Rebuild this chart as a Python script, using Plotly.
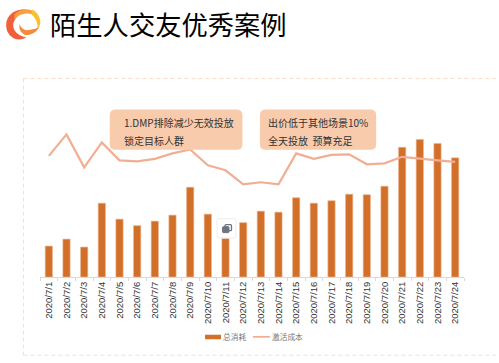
import plotly.graph_objects as go

W, H = 499, 363
dates = ["2020/7/%d" % d for d in range(1, 25)]
spend = [31, 38, 30, 74, 58, 51.5, 56, 62, 90, 63, 39, 54.5, 66, 65, 79.5, 74, 76.5, 83, 82.5, 91, 130, 138, 134, 119.5]
cost = [121.5, 143, 110, 135, 117, 116, 118.5, 124, 128, 112, 107, 93, 95, 93, 124, 118.5, 122.5, 123, 113, 114, 120.5, 118.5, 117, 115.5]
title_text = "陌生人交友优秀案例"
note_a = ["1.DMP排除减少无效投放", "锁定目标人群"]
note_b = ["出价低于其他场景10%", "全天投放  预算充足"]
legend_names = ["总消耗", "激活成本"]

L, R, T, B = 39.6, 464.5, 100.0, 277.5
CN = "Noto Sans CJK SC"
BAR = "#D2702A"
LINE = "#F2AE92"


def fx(x):
    return (x - L) / (R - L)


def fy(y):
    return (B - y) / (B - T)


def path(points_str):
    s = ""
    for tok in points_str.split():
        if tok[0] in "MLQ":
            s += tok[0]
            tok = tok[1:]
        if tok == "Z":
            s += "Z"
            continue
        x, y = tok.split(",")
        s += f"{fx(float(x)):.5f},{fy(float(y)):.5f} "
    return s.strip()


def rounded(x0, y0, x1, y1, r):
    return path(
        f"M{x0+r},{y0} L{x1-r},{y0} Q{x1},{y0} {x1},{y0+r} L{x1},{y1-r} Q{x1},{y1} {x1-r},{y1} "
        f"L{x0+r},{y1} Q{x0},{y1} {x0},{y1-r} L{x0},{y0+r} Q{x0},{y0} {x0+r},{y0} Z"
    )


def seg(x0, y0, x1, y1, line):
    return dict(type="line", xref="paper", yref="paper", x0=fx(x0), y0=fy(y0), x1=fx(x1), y1=fy(y1), line=line)


def blob(p, fill, line=None):
    return dict(type="path", xref="paper", yref="paper", path=p, fillcolor=fill, line=line or dict(width=0))


shapes = []
frame = dict(color="#FBDCC8", width=1, dash="4px,3px")
for c in [(23, 78.5, 499, 78.5), (23, 356, 499, 356), (23, 78.5, 23, 356)]:
    shapes.append(seg(*c, frame))
for x0, x1 in [(109.5, 242.5), (260, 376.5)]:
    shapes.append(blob(rounded(x0, 109.5, x1, 150, 6), "#F8CBAD"))
shapes.append(blob(rounded(217, 219, 236, 238.5, 2), "#FFFFFF", dict(color="#EEEEEE", width=1)))
shapes.append(blob(rounded(225, 225, 231.5, 231, 1), "#FFFFFF", dict(color="#6E7580", width=1.3)))
shapes.append(blob(rounded(222.5, 227, 229, 233, 1), "#6E7580", dict(color="#6E7580", width=1)))
logo = [
    ("#F2603A", "M25,9 Q10,9 6,21 Q4,33 13,38 Q20,41 26,37 Q18,36 14,30 Q9,20 25,9 Z"),
    ("#F9A03C", "M14,14 Q22,7 31,10 Q34,12 35,15 Q28,12 22,14 Q17,15 14,20 Z"),
    ("#FBC02D", "M32,9 Q40,14 40,23 Q39,27 37,29 Q38,20 31,14 Z"),
    ("#F58A3A", "M19,24 Q21,29 26,30 Q33,30 39,27 Q34,35 25,35 Q18,32 19,24 Z"),
]
for c, p in logo:
    shapes.append(blob(path(p), c))
shapes.append(blob(rounded(205, 335.5, 221, 340, 0.1), BAR))
shapes.append(seg(253, 337.5, 270, 337.5, dict(color=LINE, width=1.8)))

ann = []


def text(x, y, s, size, color):
    ann.append(dict(xref="paper", yref="paper", x=fx(x), y=fy(y), text=s, showarrow=False, xanchor="left",
                    yanchor="middle", align="left", font=dict(family=CN, size=size, color=color)))


text(47.5, 23.5, title_text, 26.3, "#000000")
text(121.5, 122.5, note_a[0], 10, "#333333")
text(121.5, 140.5, note_a[1], 10, "#333333")
text(266, 122.5, note_b[0], 10, "#333333")
text(266, 140.5, note_b[1], 10, "#333333")
text(221, 337.5, legend_names[0], 7.7, "#777777")
text(270, 337.5, legend_names[1], 7.7, "#777777")

fig = go.Figure()
fig.add_bar(x=dates, y=spend, name=legend_names[0], marker=dict(color=BAR, line=dict(color="#EDB38E", width=0.6)))
fig.add_scatter(x=dates, y=cost, name=legend_names[1], mode="lines", line=dict(color=LINE, width=2.2))
fig.update_layout(
    width=W, height=H, autosize=False,
    margin=dict(l=L, r=W - R, t=T, b=H - B, pad=0),
    paper_bgcolor="white", plot_bgcolor="white",
    bargap=0.59, showlegend=False,
    shapes=shapes, annotations=ann,
    xaxis=dict(type="category", range=[-0.5, 23.5], tickangle=-90, ticks="outside", ticklen=3, tickcolor="#D9D9D9",
               tickson="boundaries", showline=True, linecolor="#D9D9D9", linewidth=1, showgrid=False,
               tickfont=dict(family="Liberation Sans", size=9.5, color="#333333"), tickmode="array",
               tickvals=dates, ticktext=dates, fixedrange=True),
    yaxis=dict(range=[0, B - T], visible=False, showgrid=False, fixedrange=True),
)
fig.write_html("out.html", config={"displayModeBar": False},
               post_script="document.body.style.margin='0';document.documentElement.style.overflow='hidden';")
